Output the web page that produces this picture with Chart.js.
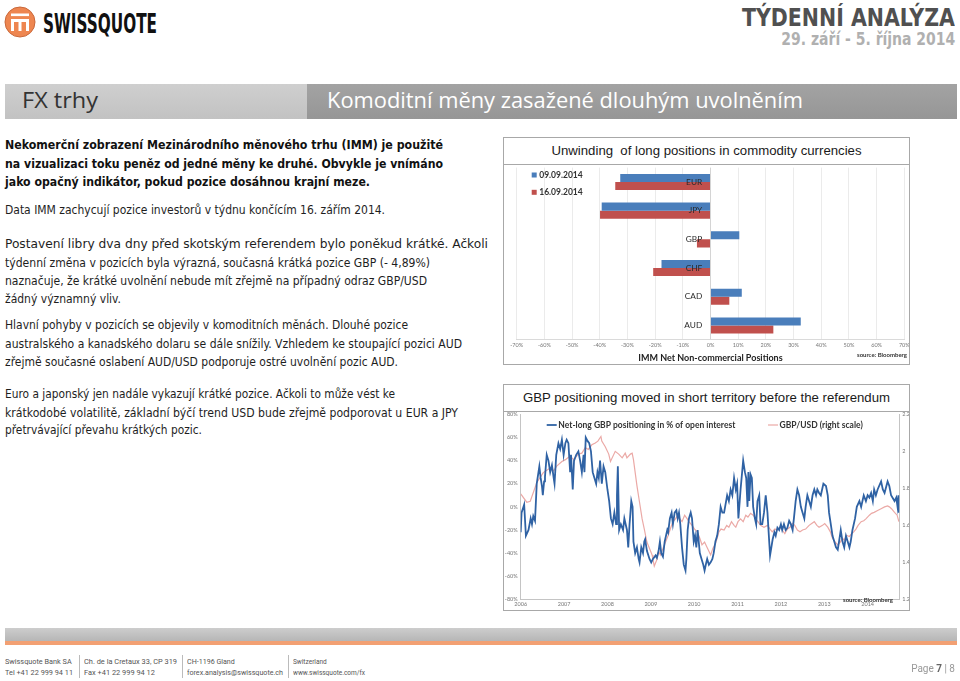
<!DOCTYPE html>
<html>
<head>
<meta charset="utf-8">
<script src="https://cdn.jsdelivr.net/npm/chart.js@4.4.1/dist/chart.umd.min.js"></script>
<style>
  body { margin: 0; width: 960px; height: 681px; position: relative; background: #fff; overflow: hidden;
         font-family: "DejaVu Sans Condensed", "DejaVu Sans", sans-serif; }
  .abs { position: absolute; white-space: nowrap; line-height: 1; }
  .fitl { transform-origin: left center; }
  .fitr { transform-origin: right center; }
  .txt { font-size: 13px; color: #1e1e1e; left: 5px; }
  .txt.b { font-weight: bold; color: #111; }
  .box { position: absolute; border: 1px solid #a8a8a8; background: #fff; }
  .box .ttl { height: 26px; line-height: 26px; border-bottom: 1px solid #a8a8a8; text-align: center;
              font-family: "Liberation Sans", Arial, sans-serif; font-size: 13.2px; color: #1a1a1a; }
  .box canvas { display: block; }
  .src { position: absolute; font-family: Lato, sans-serif; font-size: 6px; font-weight: bold; color: #333; white-space: nowrap; }
  .foot { font-family: Roboto, sans-serif; font-size: 8px; color: #555; line-height: 11px; }
  .sep { position: absolute; top: 655px; width: 1px; height: 23px; background: #bbb; }
</style>
</head>
<body>

<!-- header -->
<svg class="abs" style="left:0;top:0" width="40" height="44">
  <circle cx="20" cy="22" r="15" fill="#ee8650" stroke="#c9683a" stroke-width="1"/>
  <rect x="11" y="13.5" width="18" height="2.6" fill="#fff"/>
  <path d="M12.5 31 V20.5 H27.5 V31 M20 20.5 V31" stroke="#fff" stroke-width="3" fill="none"/>
</svg>
<div class="abs fitl" data-w="114" style="left:43px;top:11px;font-size:26px;font-weight:bold;color:#111">SWISSQUOTE</div>
<div class="abs fitr" data-w="213" style="right:5px;top:6px;font-size:24.5px;font-weight:bold;color:#505050">TÝDENNÍ ANALÝZA</div>
<div class="abs fitr" data-w="174" style="right:5px;top:31px;font-size:17px;font-weight:bold;color:#b0b0b0">29. září - 5. října 2014</div>

<!-- banner -->
<div class="abs" style="left:5px;top:84px;width:302px;height:35px;background:linear-gradient(#cfcfcf,#c2c2c2)"></div>
<div class="abs" style="left:307px;top:84px;width:650px;height:35px;background:linear-gradient(#a3a3a3,#969696)"></div>
<div class="abs fitl" data-w="76" style="left:22px;top:90px;font-family:'Open Sans',sans-serif;font-size:21px;color:#333">FX trhy</div>
<div class="abs fitl" data-w="476" style="left:327px;top:90px;font-family:'Open Sans',sans-serif;font-size:21px;color:#fff">Komoditní měny zasažené dlouhým uvolněním</div>

<!-- left text -->
<div class="abs txt b fitl" data-w="438" style="top:138px">Nekomerční zobrazení Mezinárodního měnového trhu (IMM) je použité</div>
<div class="abs txt b fitl" data-w="438" style="top:157px">na vizualizaci toku peněz od jedné měny ke druhé. Obvykle je vnímáno</div>
<div class="abs txt b fitl" data-w="365" style="top:175px">jako opačný indikátor, pokud pozice dosáhnou krajní meze.</div>
<div class="abs txt fitl" data-w="380" style="top:203px">Data IMM zachycují pozice investorů v týdnu končícím 16. zářím 2014.</div>
<div class="abs txt fitl" data-w="483" style="top:237px">Postavení libry dva dny před skotským referendem bylo poněkud krátké. Ačkoli</div>
<div class="abs txt fitl" data-w="425" style="top:256px">týdenní změna v pozicích byla výrazná, současná krátká pozice GBP (- 4,89%)</div>
<div class="abs txt fitl" data-w="422" style="top:274px">naznačuje, že krátké uvolnění nebude mít zřejmě na případný odraz GBP/USD</div>
<div class="abs txt fitl" data-w="116" style="top:292px">žádný významný vliv.</div>
<div class="abs txt fitl" data-w="403" style="top:318px">Hlavní pohyby v pozicích se objevily v komoditních měnách. Dlouhé pozice</div>
<div class="abs txt fitl" data-w="457" style="top:337px">australského a kanadského dolaru se dále snížily. Vzhledem ke stoupající pozici AUD</div>
<div class="abs txt fitl" data-w="393" style="top:355px">zřejmě současné oslabení AUD/USD podporuje ostré uvolnění pozic AUD.</div>
<div class="abs txt fitl" data-w="390" style="top:387px">Euro a japonský jen nadále vykazují krátké pozice. Ačkoli to může vést ke</div>
<div class="abs txt fitl" data-w="453" style="top:406px">krátkodobé volatilitě, základní býčí trend USD bude zřejmě podporovat u EUR a JPY</div>
<div class="abs txt fitl" data-w="197" style="top:423px">přetrvávající převahu krátkých pozic.</div>

<!-- chart 1 -->
<div class="box" style="left:503px;top:137px;width:405px;height:226px">
  <div class="ttl">Unwinding&nbsp; of long positions in commodity currencies</div>
  <canvas id="imm" width="405" height="199"></canvas>
</div>
<div class="src" style="left:857px;top:351px">source: Bloomberg</div>

<!-- chart 2 -->
<div class="box" style="left:503px;top:384px;width:405px;height:225px">
  <div class="ttl">GBP positioning moved in short territory before the referendum</div>
  <canvas id="gbp" width="405" height="198"></canvas>
</div>
<div class="src" style="left:843px;top:596px">source: Bloomberg</div>

<!-- footer -->
<div class="abs" style="left:5px;top:628px;width:952px;height:13px;background:linear-gradient(#cdcdcd,#b6b6b6)"></div>
<div class="abs" style="left:5px;top:641px;width:952px;height:4px;background:#f2a073"></div>
<div class="abs foot fitl" data-w="68" style="left:5px;top:656px">Swissquote Bank SA<br>Tel +41 22 999 94 11</div>
<div class="sep" style="left:79px"></div>
<div class="abs foot fitl" data-w="93" style="left:84px;top:656px">Ch. de la Cretaux 33, CP 319<br>Fax +41 22 999 94 12</div>
<div class="sep" style="left:182px"></div>
<div class="abs foot fitl" data-w="96" style="left:187px;top:656px">CH-1196 Gland<br>forex.analysis@swissquote.ch</div>
<div class="sep" style="left:288px"></div>
<div class="abs foot fitl" data-w="72" style="left:293px;top:656px">Switzerland<br>www.swissquote.com/fx</div>
<div class="abs" style="right:5px;top:664px;font-family:Roboto,sans-serif;font-size:10px;color:#999">Page <b style="color:#666">7</b> | 8</div>

<script>
// IMM net non-commercial positions (% of open interest)
const currencies = ["EUR", "JPY", "GBP", "CHF", "CAD", "AUD"];
const pos0909 = [-32.6, -39.3, 10.4, -17.7, 11.3, 32.6];
const pos1609 = [-34.4, -39.9, -4.9, -20.7, 6.8, 22.7];

// Net-long GBP positioning in % of open interest (decimal years)
const netLongYears = [
  2006.00, 2006.02, 2006.08, 2006.12, 2006.18, 2006.23, 2006.26, 2006.29, 2006.33, 2006.37,
  2006.41, 2006.43, 2006.46, 2006.49, 2006.51, 2006.54, 2006.56, 2006.60, 2006.64, 2006.68,
  2006.72, 2006.76, 2006.78, 2006.82, 2006.87, 2006.91, 2006.95, 2006.99, 2007.03, 2007.06,
  2007.10, 2007.14, 2007.16, 2007.20, 2007.23, 2007.28, 2007.33, 2007.37, 2007.41, 2007.45,
  2007.47, 2007.50, 2007.54, 2007.58, 2007.62, 2007.66, 2007.70, 2007.74, 2007.77, 2007.80,
  2007.83, 2007.87, 2007.91, 2007.95, 2008.00, 2008.04, 2008.08, 2008.12, 2008.16, 2008.20,
  2008.22, 2008.24, 2008.27, 2008.31, 2008.36, 2008.39, 2008.42, 2008.45, 2008.48, 2008.51,
  2008.55, 2008.58, 2008.60, 2008.64, 2008.68, 2008.72, 2008.74, 2008.78, 2008.82, 2008.85,
  2008.87, 2008.91, 2008.97, 2009.01, 2009.05, 2009.11, 2009.14, 2009.18, 2009.21, 2009.24,
  2009.28, 2009.32, 2009.38, 2009.40, 2009.44, 2009.48, 2009.51, 2009.55, 2009.59, 2009.62,
  2009.65, 2009.68, 2009.72, 2009.76, 2009.80, 2009.82, 2009.85, 2009.88, 2009.92, 2009.95,
  2009.99, 2010.02, 2010.05, 2010.08, 2010.13, 2010.17, 2010.21, 2010.24, 2010.28, 2010.30,
  2010.34, 2010.38, 2010.42, 2010.45, 2010.49, 2010.53, 2010.57, 2010.61, 2010.65, 2010.69,
  2010.76, 2010.80, 2010.84, 2010.88, 2010.92, 2010.96, 2010.99, 2011.02, 2011.05, 2011.07,
  2011.13, 2011.17, 2011.20, 2011.23, 2011.25, 2011.27, 2011.30, 2011.33, 2011.36, 2011.40,
  2011.43, 2011.46, 2011.50, 2011.53, 2011.57, 2011.61, 2011.65, 2011.69, 2011.73, 2011.75,
  2011.78, 2011.81, 2011.85, 2011.88, 2011.92, 2011.96, 2012.00, 2012.03, 2012.07, 2012.11,
  2012.15, 2012.19, 2012.23, 2012.27, 2012.30, 2012.34, 2012.38, 2012.42, 2012.46, 2012.50,
  2012.54, 2012.57, 2012.61, 2012.65, 2012.69, 2012.73, 2012.77, 2012.81, 2012.84, 2012.88,
  2012.92, 2012.98, 2013.04, 2013.08, 2013.11, 2013.15, 2013.19, 2013.23, 2013.27, 2013.31,
  2013.34, 2013.38, 2013.42, 2013.46, 2013.50, 2013.54, 2013.58, 2013.61, 2013.65, 2013.71,
  2013.75, 2013.81, 2013.85, 2013.91, 2013.96, 2014.00, 2014.04, 2014.08, 2014.12, 2014.15,
  2014.19, 2014.23, 2014.31, 2014.35, 2014.39, 2014.46, 2014.50, 2014.54, 2014.62, 2014.66,
  2014.69, 2014.71, 2014.72
];
const netLongPct = [
  -22, -5, 2, -25, -20, -10, -15, -8, -12, 20,
  30, 35, 25, 18, 10, 22, 26, 45, 40, 30,
  36, 25, 20, 45, 55, 50, 58, 45, 55, 58,
  55, 30, 45, 15, 40, 45, 48, 40, 30, 45,
  30, 60, 57, 55, 48, 30, 25, 20, 30, 25,
  40, 20, 35, 30, 15, 5, -10, -15, -5, -15,
  10, 35, -20, -15, -20, -10, -15, -20, -35, -15,
  5, 0, -30, -40, -35, -45, -48, -35, -40, -30,
  -28, -38, -45, -48, -45, -42, -44, -38, -30, -40,
  -43, -30, -20, -22, -10, -5, -15, -5, -3, -10,
  -5, -15, -35, -50, -55, -45, -20, -10, -5, -10,
  -30, -25, -35, -20, -40, -45, -50, -55, -48, -45,
  -50, -48, -45, -40, -30, -25, -15, 0, -5, -5,
  10, 5, 15, 10, 25, 15, 20, -10, 5, 15,
  40, 30, 25, 0, 30, 5, 28, 25, 0, -10,
  -15, 5, 10, -15, -15, -5, 10, -5, -30, -42,
  -35, -28, -22, -25, -18, -20, -15, -20, -15, -20,
  -18, -12, -15, -20, -10, 5, 15, 10, 0, -5,
  -10, 0, 10, 5, 0, 10, 15, 10, 15, 12,
  10, 20, 18, 10, -5, -15, -25, -30, -35, -37,
  -30, -20, -30, -35, -25, -30, -35, -30, -20, -10,
  0, 5, 0, 10, 5, 10, 8, 12, 5, 15,
  10, 15, 22, 15, 12, 22, 18, 10, 5, 8,
  0, 10, -5
];

// GBP/USD spot (right scale)
const gbpUsdYears = [
  2006.00, 2006.14, 2006.22, 2006.37, 2006.52, 2006.68, 2006.76, 2006.83, 2006.95, 2007.03,
  2007.14, 2007.22, 2007.33, 2007.41, 2007.49, 2007.56, 2007.64, 2007.72, 2007.78, 2007.85,
  2007.87, 2007.95, 2008.03, 2008.07, 2008.18, 2008.26, 2008.34, 2008.41, 2008.45, 2008.53,
  2008.57, 2008.60, 2008.64, 2008.68, 2008.74, 2008.80, 2008.85, 2008.91, 2008.97, 2009.03,
  2009.05, 2009.08, 2009.14, 2009.18, 2009.22, 2009.28, 2009.34, 2009.40, 2009.45, 2009.51,
  2009.57, 2009.62, 2009.67, 2009.72, 2009.78, 2009.84, 2009.88, 2009.95, 2010.01, 2010.07,
  2010.13, 2010.18, 2010.24, 2010.29, 2010.34, 2010.38, 2010.43, 2010.49, 2010.53, 2010.57,
  2010.62, 2010.69, 2010.75, 2010.80, 2010.86, 2010.92, 2010.96, 2011.01, 2011.07, 2011.13,
  2011.19, 2011.24, 2011.30, 2011.36, 2011.42, 2011.47, 2011.53, 2011.61, 2011.69, 2011.75,
  2011.80, 2011.86, 2011.92, 2011.98, 2012.03, 2012.09, 2012.15, 2012.21, 2012.27, 2012.32,
  2012.38, 2012.44, 2012.50, 2012.57, 2012.65, 2012.71, 2012.77, 2012.83, 2012.88, 2012.96,
  2013.01, 2013.08, 2013.14, 2013.19, 2013.25, 2013.31, 2013.37, 2013.42, 2013.46, 2013.52,
  2013.58, 2013.63, 2013.68, 2013.73, 2013.78, 2013.85, 2013.91, 2013.96, 2014.04, 2014.09,
  2014.15, 2014.23, 2014.31, 2014.39, 2014.46, 2014.50, 2014.55, 2014.62, 2014.68, 2014.72
];
const gbpUsdRate = [
  1.77, 1.725, 1.73, 1.83, 1.885, 1.91, 1.895, 1.92, 1.945, 1.955,
  1.975, 1.955, 1.985, 1.99, 2.02, 2.01, 2.035, 2.045, 2.055, 2.08,
  2.055, 2.025, 1.985, 1.945, 2.0, 1.985, 1.965, 1.99, 1.965, 1.985,
  1.99, 1.955, 1.885, 1.815, 1.725, 1.635, 1.58, 1.51, 1.475, 1.44,
  1.415, 1.38, 1.415, 1.46, 1.44, 1.475, 1.51, 1.545, 1.58, 1.62,
  1.635, 1.655, 1.635, 1.62, 1.655, 1.635, 1.62, 1.60, 1.58, 1.565,
  1.53, 1.495, 1.51, 1.485, 1.46, 1.44, 1.475, 1.50, 1.53, 1.565,
  1.58, 1.575, 1.60, 1.59, 1.62, 1.60, 1.59, 1.62, 1.635, 1.62,
  1.655, 1.645, 1.665, 1.655, 1.635, 1.62, 1.60, 1.59, 1.60, 1.58,
  1.565, 1.58, 1.575, 1.59, 1.575, 1.555, 1.58, 1.59, 1.61, 1.60,
  1.575, 1.565, 1.575, 1.58, 1.60, 1.61, 1.62, 1.60, 1.59, 1.60,
  1.61, 1.59, 1.565, 1.53, 1.51, 1.495, 1.51, 1.53, 1.52, 1.545,
  1.54, 1.555, 1.565, 1.58, 1.60, 1.62, 1.625, 1.635, 1.655, 1.665,
  1.67, 1.68, 1.69, 1.70, 1.705, 1.70, 1.69, 1.67, 1.655, 1.62
];

// stretch text lines to the widths measured on the original page
document.querySelectorAll("[data-w]").forEach((el) => {
  const w = el.getBoundingClientRect().width;
  el.style.transform = `scaleX(${el.dataset.w / w})`;
});

// legend drawn inside the plot area, like the Excel originals
const insideLegend = {
  id: "insideLegend",
  afterDatasetsDraw(chart, args, opts) {
    const ctx = chart.ctx;
    const area = chart.chartArea;
    ctx.save();
    ctx.font = opts.font;
    ctx.textBaseline = "middle";
    chart.data.datasets.forEach((ds, i) => {
      const x = area.left + opts.x + (opts.dx ? opts.dx[i] : 0);
      const y = area.top + opts.y + (opts.dy ? opts.dy[i] : 0);
      if (opts.marker === "line") {
        ctx.strokeStyle = ds.borderColor;
        ctx.lineWidth = ds.borderWidth;
        ctx.beginPath();
        ctx.moveTo(x, y);
        ctx.lineTo(x + opts.size, y);
        ctx.stroke();
      } else {
        ctx.fillStyle = ds.backgroundColor;
        ctx.fillRect(x, y - opts.size / 2, opts.size, opts.size);
      }
      ctx.fillStyle = opts.color;
      ctx.fillText(ds.label, x + opts.size + opts.gap, y);
    });
    ctx.restore();
  },
};

// tick labels may overhang the plot edge, as they do in Excel
const noLabelPadding = (s) => {
  s.paddingTop = 0;
  s.paddingBottom = 0;
  s.paddingLeft = 0;
  s.paddingRight = 0;
};

const tickFont = { family: "Lato", size: 5.5 };

new Chart(document.getElementById("imm"), {
  type: "bar",
  data: {
    labels: currencies,
    datasets: [
      { label: "09.09.2014", data: pos0909, backgroundColor: "#4a7ebb" },
      { label: "16.09.2014", data: pos1609, backgroundColor: "#c0504d" },
    ],
  },
  plugins: [insideLegend],
  options: {
    indexAxis: "y",
    responsive: false,
    animation: false,
    datasets: { bar: { categoryPercentage: 0.56, barPercentage: 1 } },
    layout: { autoPadding: false, padding: { left: 12.7, right: 4.7, top: 2.6, bottom: 0.8 } },
    plugins: {
      legend: { display: false },
      tooltip: { enabled: false },
      insideLegend: { marker: "box", x: 15, y: 7.4, dy: [0, 17.3], size: 5, gap: 2.5,
                      font: "bold 8.5px Lato", color: "#333" },
    },
    scales: {
      x: {
        min: -70, max: 70,
        ticks: { stepSize: 10, callback: (v) => v + "%", font: tickFont, color: "#777",
                 padding: 2, maxRotation: 0, autoSkip: false },
        grid: { color: (c) => (c.tick && c.tick.value === 0 ? "#d4d4d4" : "#ebebeb"), drawTicks: false },
        border: { color: "#dadada" },
        title: { display: true, text: "IMM Net Non-commercial Positions", color: "#222",
                 font: { family: "Lato", size: 9, weight: "bold" }, padding: { top: 2, bottom: 0 } },
        afterFit: noLabelPadding,
      },
      y: {
        // category labels sit just left of the zero line, on top of the bars
        position: { x: -3 },
        grid: { display: false, drawTicks: false },
        border: { display: false },
        ticks: { z: 1, font: { family: "Lato", size: 8.3 }, color: "#2a2a2a", autoSkip: false },
        afterFit: noLabelPadding,
      },
    },
  },
});

new Chart(document.getElementById("gbp"), {
  type: "line",
  data: {
    datasets: [
      {
        label: "Net-long GBP positioning in % of open interest",
        data: netLongYears.map((t, i) => ({ x: t, y: netLongPct[i] })),
        borderColor: "#2f62a4", borderWidth: 1.8, pointRadius: 0, yAxisID: "y",
      },
      {
        label: "GBP/USD (right scale)",
        data: gbpUsdYears.map((t, i) => ({ x: t, y: gbpUsdRate[i] })),
        borderColor: "#eba9a6", borderWidth: 1.2, pointRadius: 0, yAxisID: "y1",
      },
    ],
  },
  plugins: [insideLegend],
  options: {
    responsive: false,
    animation: false,
    layout: { autoPadding: false, padding: { left: 0, right: 0, top: 2.3, bottom: 0 } },
    plugins: {
      legend: { display: false },
      tooltip: { enabled: false },
      insideLegend: { marker: "line", x: 26, y: 10.7, dx: [0, 221.3], size: 10, gap: 1.6,
                      font: "bold 8.5px Lato", color: "#333" },
    },
    scales: {
      x: {
        type: "linear", min: 2006, max: 2014.73,
        ticks: { stepSize: 1, includeBounds: false, callback: (v) => String(v), font: tickFont,
                 color: "#777", padding: 2, maxRotation: 0 },
        grid: { display: false, drawTicks: false },
        border: { color: "#c4c4c4" },
        afterFit: noLabelPadding,
      },
      y: {
        position: "left", min: -80, max: 80,
        ticks: { stepSize: 20, callback: (v) => v + "%", font: tickFont, color: "#777", padding: 3 },
        grid: { display: false, drawTicks: false },
        border: { color: "#c4c4c4" },
        afterFit: (s) => { noLabelPadding(s); s.width = 16.7; },
      },
      y1: {
        position: "right", min: 1.2, max: 2.2,
        ticks: { stepSize: 0.2, callback: (v) => String(+v.toFixed(1)), font: tickFont, color: "#777", padding: 3 },
        grid: { display: false, drawTicks: false },
        border: { color: "#c4c4c4" },
        afterFit: (s) => { noLabelPadding(s); s.width = 9.7; },
      },
    },
  },
});
</script>
</body>
</html>
